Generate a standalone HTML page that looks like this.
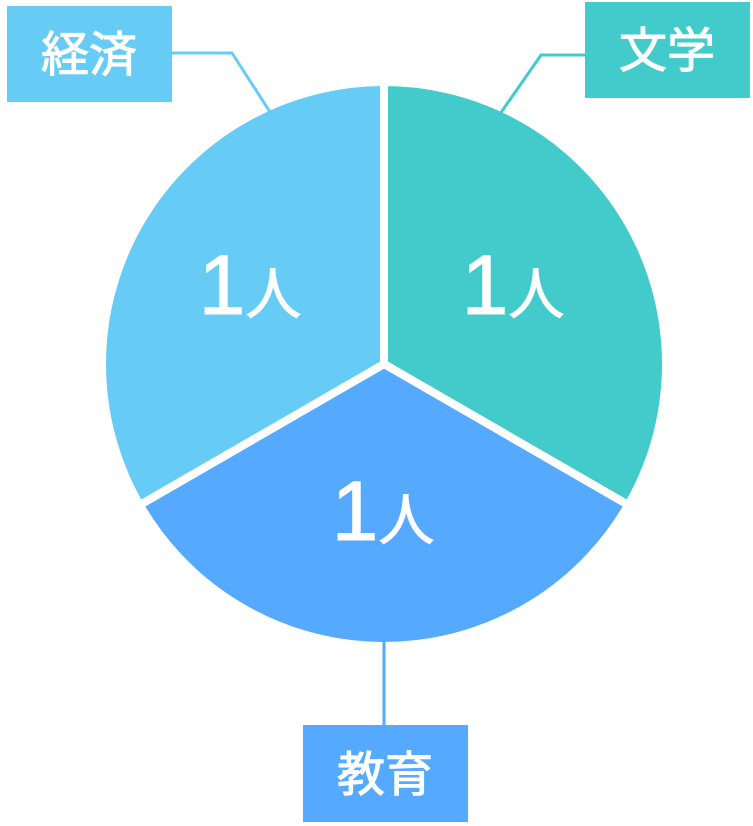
<!DOCTYPE html>
<html><head><meta charset="utf-8"><style>
html,body{margin:0;padding:0;background:#fff;width:753px;height:826px;overflow:hidden}
text{font-family:"Liberation Sans","Noto Sans CJK JP",sans-serif;fill:#fff;font-weight:normal}
</style></head><body>
<svg width="753" height="826" viewBox="0 0 753 826" xmlns="http://www.w3.org/2000/svg">
<path d="M384,364 L384,82 A282,282 0 0 1 628.2,505 Z" fill="#43CBCB" stroke="#fff" stroke-width="8"/>
<path d="M384,364 L628.2,505 A282,282 0 0 1 139.8,505 Z" fill="#55AAFF" stroke="#fff" stroke-width="8"/>
<path d="M384,364 L139.8,505 A282,282 0 0 1 384,82 Z" fill="#66CCF5" stroke="#fff" stroke-width="8"/>
<polyline points="172,53 232,53 270,112" fill="none" stroke="#66CCF5" stroke-width="3"/>
<polyline points="585,55 541,55 500,114" fill="none" stroke="#43CBCB" stroke-width="3"/>
<line x1="384" y1="638" x2="384" y2="726" stroke="#55AAFF" stroke-width="3"/>
<text x="250" y="314" text-anchor="middle" stroke="#fff" stroke-width="1"><tspan font-size="84">1</tspan><tspan font-size="56">人</tspan></text>
<text x="513" y="314" text-anchor="middle" stroke="#fff" stroke-width="1"><tspan font-size="84">1</tspan><tspan font-size="56">人</tspan></text>
<text x="383" y="540" text-anchor="middle" stroke="#fff" stroke-width="1"><tspan font-size="84">1</tspan><tspan font-size="56">人</tspan></text>
<rect x="7" y="6" width="165" height="96" fill="#66CCF5"/>
<text x="89" y="71" text-anchor="middle" font-size="48" stroke="#fff" stroke-width="1">経済</text>
<rect x="585" y="2" width="165" height="96" fill="#43CBCB"/>
<text x="667" y="67" text-anchor="middle" font-size="48" stroke="#fff" stroke-width="1">文学</text>
<rect x="303" y="725" width="165" height="97" fill="#55AAFF"/>
<text x="385" y="791" text-anchor="middle" font-size="48" stroke="#fff" stroke-width="1">教育</text>
</svg>
</body></html>
